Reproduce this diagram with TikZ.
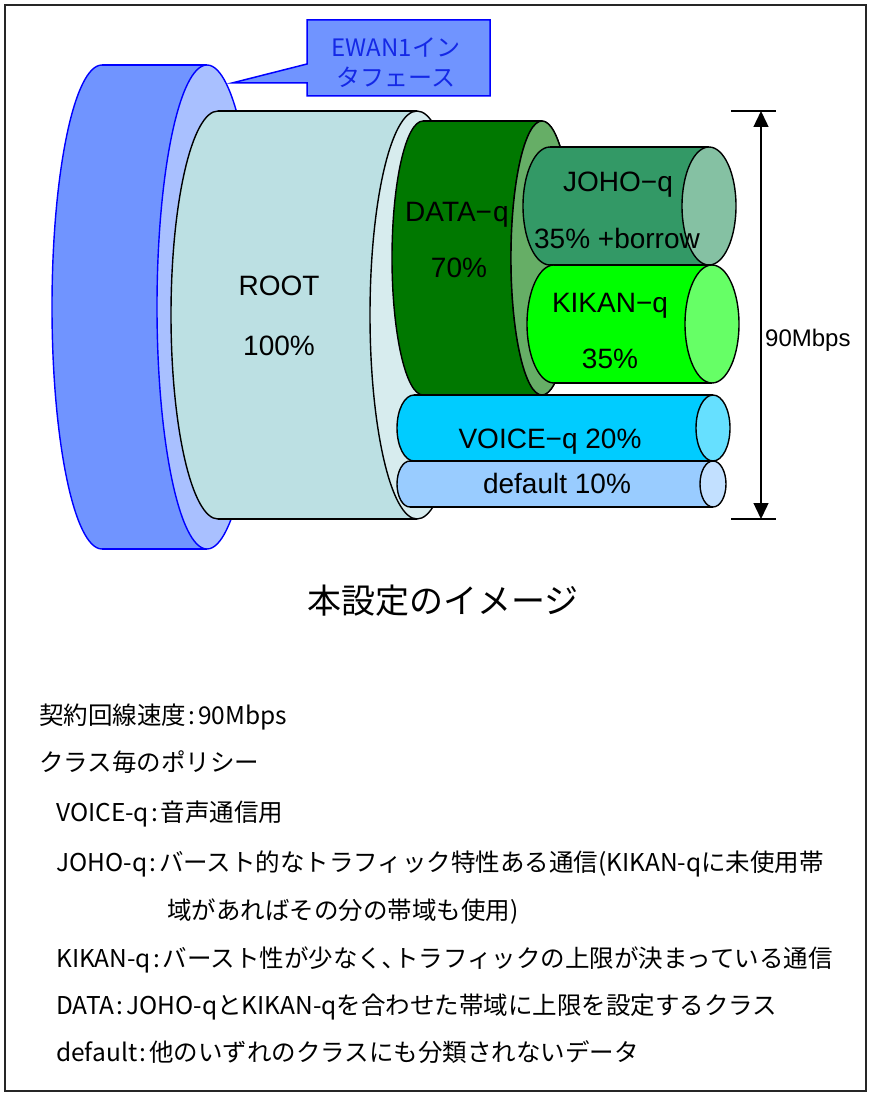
\documentclass[tikz,border=0pt]{standalone}
\usepackage{fontspec}
\setmainfont{Noto Sans CJK JP}
\newfontfamily\arialfont{Liberation Sans}
\usetikzlibrary{arrows.meta}

\definecolor{ewanBody}{RGB}{112,148,255}
\definecolor{ewanFace}{RGB}{169,192,255}
\definecolor{ewanLine}{RGB}{0,0,255}
\definecolor{ewanText}{RGB}{20,40,230}
\definecolor{rootBody}{RGB}{188,224,227}
\definecolor{rootFace}{RGB}{215,236,238}
\definecolor{dataBody}{RGB}{0,120,0}
\definecolor{dataFace}{RGB}{102,174,102}
\definecolor{johoBody}{RGB}{51,153,102}
\definecolor{johoFace}{RGB}{133,193,163}
\definecolor{kikanBody}{RGB}{0,255,0}
\definecolor{kikanFace}{RGB}{102,255,102}
\definecolor{voiceBody}{RGB}{0,204,255}
\definecolor{voiceFace}{RGB}{102,224,255}
\definecolor{defBody}{RGB}{153,204,255}
\definecolor{defFace}{RGB}{194,224,255}

% end face of a horizontal cylinder: centre x, centre y, rx, ry, fill, outline
\newcommand\tubeface[6]{%
  \filldraw[fill=#5, draw=#6, line width=1.4pt] (#1,#2) ellipse [x radius=#3, y radius=#4];
}
% horizontal cylinder: name, left end x, right end x, centre y, rx, ry, body, face, outline
\newcommand\tube[9]{%
  \filldraw[fill=#7, draw=#9, line width=1.4pt] (#2,#4) ellipse [x radius=#5, y radius=#6];
  \fill[#7] (#2,#4-#6) rectangle (#3,#4+#6);
  \draw[#9, line width=1.4pt] (#2,#4-#6) -- (#3,#4-#6) (#2,#4+#6) -- (#3,#4+#6);
  \tubeface{#3}{#4}{#5}{#6}{#8}{#9}
  \coordinate (#1) at (#3,#4);
}
% colon with the spacing used in the notes
\newcommand\cln{\hspace{2pt}:\hspace{3pt}}

\tikzset{
  lab/.style={font=\arialfont\fontsize{28}{28}\selectfont, anchor=base, inner sep=0pt},
  note/.style={font=\fontsize{24.5}{24.5}\selectfont, anchor=base west, inner sep=0pt},
}

\begin{document}
\begin{tikzpicture}[x=1pt, y=-1pt]
  \useasboundingbox (0,0) rectangle (869,1094);
  \draw[line width=1.5pt, black!85] (5,5) rectangle (866,1091);

  % interface drum and its callout
  \tube{ewan}{102}{207}{307}{50}{242}{ewanBody}{ewanFace}{ewanLine}
  \filldraw[fill=ewanBody, draw=ewanLine, line width=1.5pt, line join=miter]
    (307,20) -- (490,20) -- (490,96) -- (307,96) -- (307,83) -- (232,83) -- (307,64) -- cycle;
  \node[font=\fontsize{24}{24}\selectfont, text=ewanText, anchor=base, inner sep=0pt] (ewanA) at (396,57) {EWAN1イン};
  \node[font=\fontsize{24}{24}\selectfont, text=ewanText, anchor=base, inner sep=0pt] (ewanB) at (396,87) {タフェース};

  % class hierarchy
  \tube{root}{218}{417}{315}{47}{204}{rootBody}{rootFace}{black}
  \node[lab] (rootA) at (279,295) {ROOT};
  \node[lab] (rootB) at (279,355) {100\%};

  \tube{data}{423}{542}{258}{31}{137}{dataBody}{dataFace}{black}
  \node[lab, anchor=base west] (dataA) at (405,222) {DATA−\hspace{1pt}q};
  \node[lab] (dataB) at (459,277) {70\%};
  % the end face sits in front of the label
  \tubeface{542}{258}{31}{137}{dataFace}{black}

  \tube{joho}{550}{709}{206}{27}{59}{johoBody}{johoFace}{black}
  \node[lab] (johoA) at (618,192) {JOHO−q};
  \node[lab] (johoB) at (617,248) {35\% +borrow};

  \tube{kikan}{554}{712}{324}{27}{59}{kikanBody}{kikanFace}{black}
  \node[lab] (kikanA) at (610,312) {KIKAN−q};
  \node[lab] (kikanB) at (610,368) {35\%};

  \tube{voice}{414}{713}{428}{17}{33}{voiceBody}{voiceFace}{black}
  \node[lab] (voiceA) at (550,448) {VOICE−q 20\%};

  \tube{deflt}{410}{713}{484}{13}{23}{defBody}{defFace}{black}
  \node[lab] (defA) at (557,493) {default 10\%};

  % total bandwidth dimension
  \coordinate (dimTop) at (761,111);
  \coordinate (dimBot) at (761,519);
  \draw[line width=1.4pt] (731,111) -- (776,111) (731,519) -- (776,519);
  \draw[line width=1.4pt, {Triangle[length=16pt,width=15pt]}-{Triangle[length=16pt,width=15pt]}] (dimTop) -- (dimBot);
  \node[font=\arialfont\fontsize{24}{24}\selectfont, anchor=base west, inner sep=0pt] (bw) at (765,346) {90Mbps};

  % caption
  \node[font=\fontsize{34}{34}\selectfont, anchor=base, inner sep=0pt] (title) at (443,613) {本設定のイメージ};

  % policy notes
  \node[note] (n1) at (39,724) {契約回線速度\cln 90Mbps};
  \node[note] (n2) at (39,771) {クラス毎のポリシー};
  \node[note] (n3) at (56,821) {VOICE-q\cln 音声通信用};
  \node[note] (n4) at (56,871) {JOHO-q\cln バースト的なトラフィック特性ある通信(KIKAN-qに未使用帯};
  \node[note] (n5) at (167,919) {域があればその分の帯域も使用)};
  \node[note] (n6) at (56,967) {KIKAN-q\cln バースト性が少なく､トラフィックの上限が決まっている通信};
  \node[note] (n7) at (56,1014) {DATA\cln JOHO-qとKIKAN-qを合わせた帯域に上限を設定するクラス};
  \node[note] (n8) at (56,1061) {default\cln 他のいずれのクラスにも分類されないデータ};
\end{tikzpicture}
\end{document}
